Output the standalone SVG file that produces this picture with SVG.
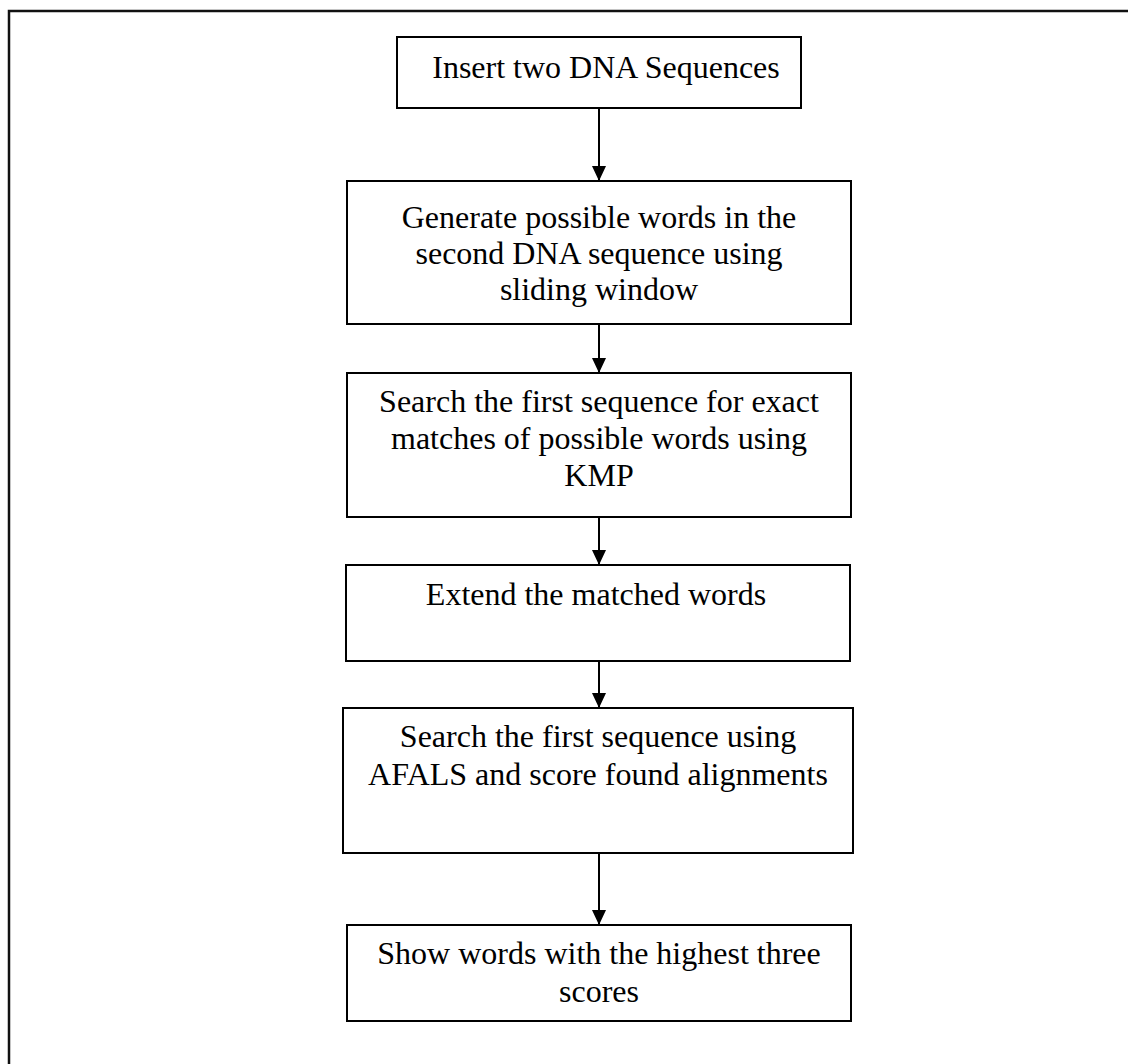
<svg xmlns="http://www.w3.org/2000/svg" width="1128" height="1064" viewBox="0 0 1128 1064">
  <style>
    .box { fill: #ffffff; stroke: #000000; stroke-width: 2; }
    .frame { fill: none; stroke: #111111; stroke-width: 2.5; }
    .lbl { font-family: "Liberation Serif", "Times New Roman", serif; font-size: 32px; fill: #000000; text-anchor: middle; }
    .edge { stroke: #000000; stroke-width: 2; fill: none; marker-end: url(#arrow); }
  </style>
  <defs>
    <!-- filled triangular head, tip at the end of the line -->
    <marker id="arrow" markerUnits="userSpaceOnUse" markerWidth="15" markerHeight="14" refX="15" refY="7" orient="auto" viewBox="0 0 15 14">
      <path d="M0,0 L15,7 L0,14 Z" fill="#000000"/>
    </marker>
  </defs>

  <!-- page frame -->
  <rect class="frame" x="9" y="11" width="1140" height="1100"/>

  <!-- connectors -->
  <g id="connectors">
    <line class="edge" x1="599" y1="108" x2="599" y2="181"/>
    <line class="edge" x1="599" y1="324" x2="599" y2="373"/>
    <line class="edge" x1="599" y1="517" x2="599" y2="565"/>
    <line class="edge" x1="599" y1="661" x2="599" y2="708"/>
    <line class="edge" x1="599" y1="853" x2="599" y2="925"/>
  </g>

  <g id="node-insert">
    <rect class="box" x="397" y="37" width="404" height="71"/>
    <text class="lbl" x="606" y="78">Insert two DNA Sequences</text>
  </g>

  <g id="node-generate">
    <rect class="box" x="347" y="181" width="504" height="143"/>
    <text class="lbl" x="599" y="228">Generate possible words in the</text>
    <text class="lbl" x="599" y="264">second DNA sequence using</text>
    <text class="lbl" x="599" y="300">sliding window</text>
  </g>

  <g id="node-kmp">
    <rect class="box" x="347" y="373" width="504" height="144"/>
    <text class="lbl" x="599" y="412">Search the first sequence for exact</text>
    <text class="lbl" x="599" y="449">matches of possible words using</text>
    <text class="lbl" x="599" y="486">KMP</text>
  </g>

  <g id="node-extend">
    <rect class="box" x="346" y="565" width="504" height="96"/>
    <text class="lbl" x="596" y="605">Extend the matched words</text>
  </g>

  <g id="node-afals">
    <rect class="box" x="343" y="708" width="510" height="145"/>
    <text class="lbl" x="598" y="747">Search the first sequence using</text>
    <text class="lbl" x="598" y="785">AFALS and score found alignments</text>
  </g>

  <g id="node-show">
    <rect class="box" x="347" y="925" width="504" height="96"/>
    <text class="lbl" x="599" y="964">Show words with the highest three</text>
    <text class="lbl" x="599" y="1002">scores</text>
  </g>
</svg>
